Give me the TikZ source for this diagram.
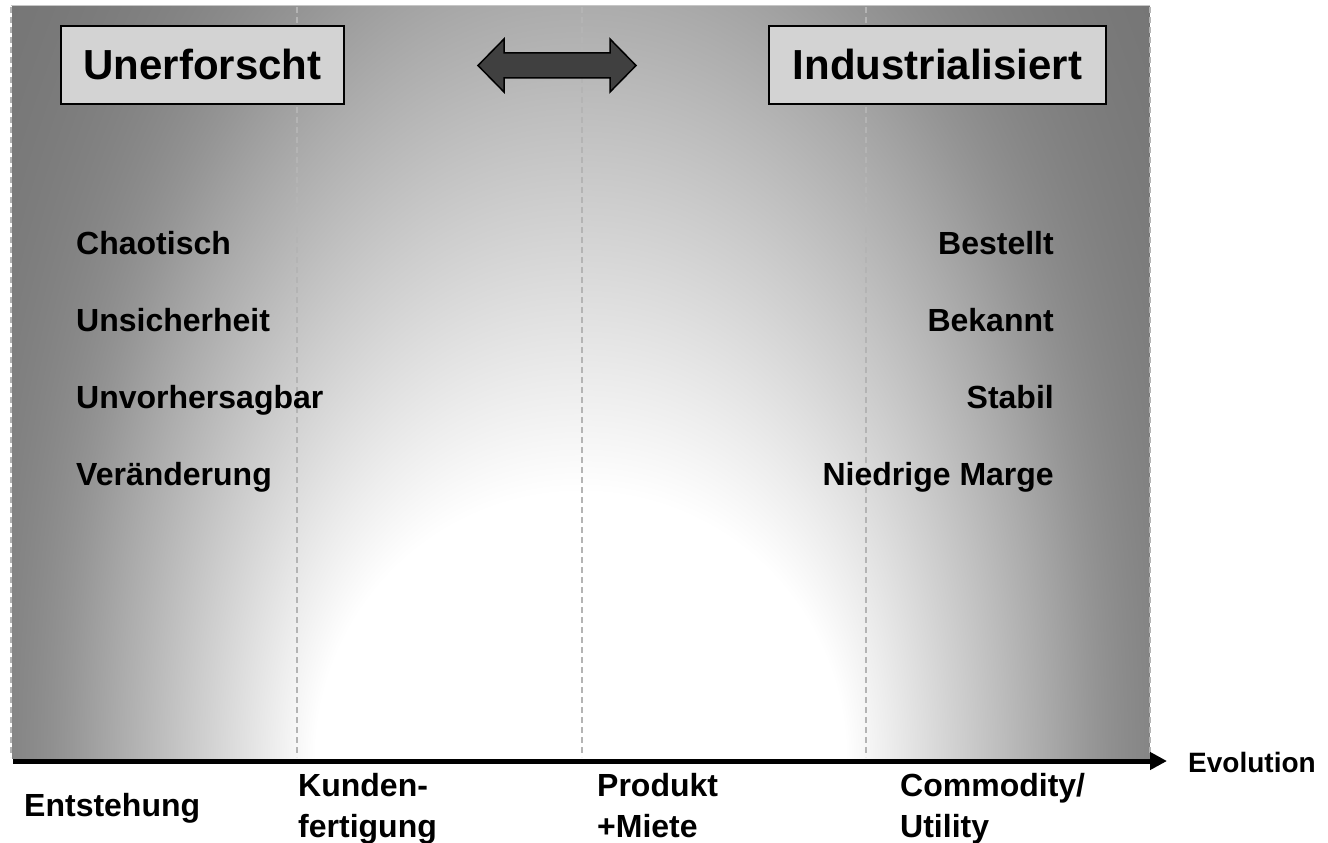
\documentclass[tikz,border=0pt]{standalone}
\usepackage{fontspec}
\setmainfont{Liberation Sans}
\usetikzlibrary{arrows.meta}
% background: ellipses centred at bottom centre, widening faster upwards
\pgfdeclarefunctionalshading{bgshade}{\pgfpointorigin}{\pgfpoint{1139pt}{752pt}}{}{%
  exch 1.00375 mul 569.5 sub abs exch 1.00375 mul
  0 1.0
  2 copy add 2 div 4 index 1 index 600 mul 265 add div dup mul 4 index 2 index 1500 mul 265 add div dup mul add 1 gt {3 -1 roll pop exch} {exch pop} ifelse
  2 copy add 2 div 4 index 1 index 600 mul 265 add div dup mul 4 index 2 index 1500 mul 265 add div dup mul add 1 gt {3 -1 roll pop exch} {exch pop} ifelse
  2 copy add 2 div 4 index 1 index 600 mul 265 add div dup mul 4 index 2 index 1500 mul 265 add div dup mul add 1 gt {3 -1 roll pop exch} {exch pop} ifelse
  2 copy add 2 div 4 index 1 index 600 mul 265 add div dup mul 4 index 2 index 1500 mul 265 add div dup mul add 1 gt {3 -1 roll pop exch} {exch pop} ifelse
  2 copy add 2 div 4 index 1 index 600 mul 265 add div dup mul 4 index 2 index 1500 mul 265 add div dup mul add 1 gt {3 -1 roll pop exch} {exch pop} ifelse
  2 copy add 2 div 4 index 1 index 600 mul 265 add div dup mul 4 index 2 index 1500 mul 265 add div dup mul add 1 gt {3 -1 roll pop exch} {exch pop} ifelse
  2 copy add 2 div 4 index 1 index 600 mul 265 add div dup mul 4 index 2 index 1500 mul 265 add div dup mul add 1 gt {3 -1 roll pop exch} {exch pop} ifelse
  2 copy add 2 div 4 index 1 index 600 mul 265 add div dup mul 4 index 2 index 1500 mul 265 add div dup mul add 1 gt {3 -1 roll pop exch} {exch pop} ifelse
  2 copy add 2 div 4 index 1 index 600 mul 265 add div dup mul 4 index 2 index 1500 mul 265 add div dup mul add 1 gt {3 -1 roll pop exch} {exch pop} ifelse
  2 copy add 2 div 4 index 1 index 600 mul 265 add div dup mul 4 index 2 index 1500 mul 265 add div dup mul add 1 gt {3 -1 roll pop exch} {exch pop} ifelse
  2 copy add 2 div 4 index 1 index 600 mul 265 add div dup mul 4 index 2 index 1500 mul 265 add div dup mul add 1 gt {3 -1 roll pop exch} {exch pop} ifelse
  add 2 div 3 1 roll pop pop
  dup 0.4 gt {0.4 sub -0.16 div 2.71828 exch exp 1 exch sub 0.16 mul 0.6 exch sub} {1 exch sub} ifelse
  dup dup
}
\definecolor{boxfill}{HTML}{D3D3D3}
\definecolor{arrowfill}{HTML}{404040}
\definecolor{divider}{HTML}{B4B4B4}
\tikzset{
  phasebox/.style={draw=black, line width=2.5pt, fill=boxfill, inner sep=0pt,
    font=\fontsize{42}{50}\selectfont\bfseries, text height=30pt, text depth=0pt},
  lbl/.style={inner sep=0pt, font=\fontsize{32}{40}\selectfont\bfseries},
  divline/.style={draw=divider, line width=1.5pt, dash pattern=on 6pt off 4pt},
  axisline/.style={line width=5pt, -{Triangle[length=17pt,width=17pt]}}
}
\begin{document}
\begin{tikzpicture}[x=1pt,y=-1pt]
\useasboundingbox (0,0) rectangle (1328,843);
% background with gradient
\node[inner sep=0pt, outer sep=0pt, anchor=south west] (bg) at (11,758) {\pgfuseshading{bgshade}};
\draw[gray!45, line width=1pt] (bg.north west) -- (bg.north east);
% dividers
\foreach \xx/\nm in {11/d0,297/d1,582/d2,866/d3,1150/d4}{
  \coordinate (\nm t) at (\xx,7);
  \coordinate (\nm b) at (\xx,757);
  \draw[divline] (\nm t) -- (\nm b);
}
% boxes
\node[phasebox, minimum width=283pt, minimum height=78pt] (unerf) at (202.5,65) {Unerforscht};
\node[phasebox, minimum width=337pt, minimum height=78pt] (indus) at (937.5,65) {Industrialisiert};
% double arrow
\draw[fill=arrowfill, draw=black, line width=1.5pt, line join=miter]
  (478,65.5) -- (504,39) -- (504,53) -- (610,53) -- (610,39) -- (636,65.5)
  -- (610,92) -- (610,78) -- (504,78) -- (504,92) -- cycle;
% left characteristics
\node[lbl, anchor=base west] (l1) at (76,254) {Chaotisch};
\node[lbl, anchor=base west] (l2) at (76,331) {Unsicherheit};
\node[lbl, anchor=base west] (l3) at (76,408) {Unvorhersagbar};
\node[lbl, anchor=base west] (l4) at (76,485) {Veränderung};
% right characteristics
\node[lbl, anchor=base east] (r1) at (1054,254) {Bestellt};
\node[lbl, anchor=base east] (r2) at (1054,331) {Bekannt};
\node[lbl, anchor=base east] (r3) at (1054,408) {Stabil};
\node[lbl, anchor=base east] (r4) at (1054,485) {Niedrige Marge};
% axis
\coordinate (axL) at (13,761);
\coordinate (axR) at (1167,761);
\draw[axisline] (axL) -- (axR);
\node[inner sep=0pt, font=\fontsize{28}{34}\selectfont\bfseries, anchor=base west] (evo) at (1188,772) {Evolution};
% stage labels
\node[lbl, anchor=base west] (s1) at (24,816) {Entstehung};
\node[lbl, anchor=base west] (s2a) at (298,796) {Kunden-};
\node[lbl, anchor=base west] (s2b) at (298,837) {fertigung};
\node[lbl, anchor=base west] (s3a) at (597,796) {Produkt};
\node[lbl, anchor=base west] (s3b) at (597,837) {+Miete};
\node[lbl, anchor=base west] (s4a) at (900,796) {Commodity/};
\node[lbl, anchor=base west] (s4b) at (900,837) {Utility};
\end{tikzpicture}
\end{document}
